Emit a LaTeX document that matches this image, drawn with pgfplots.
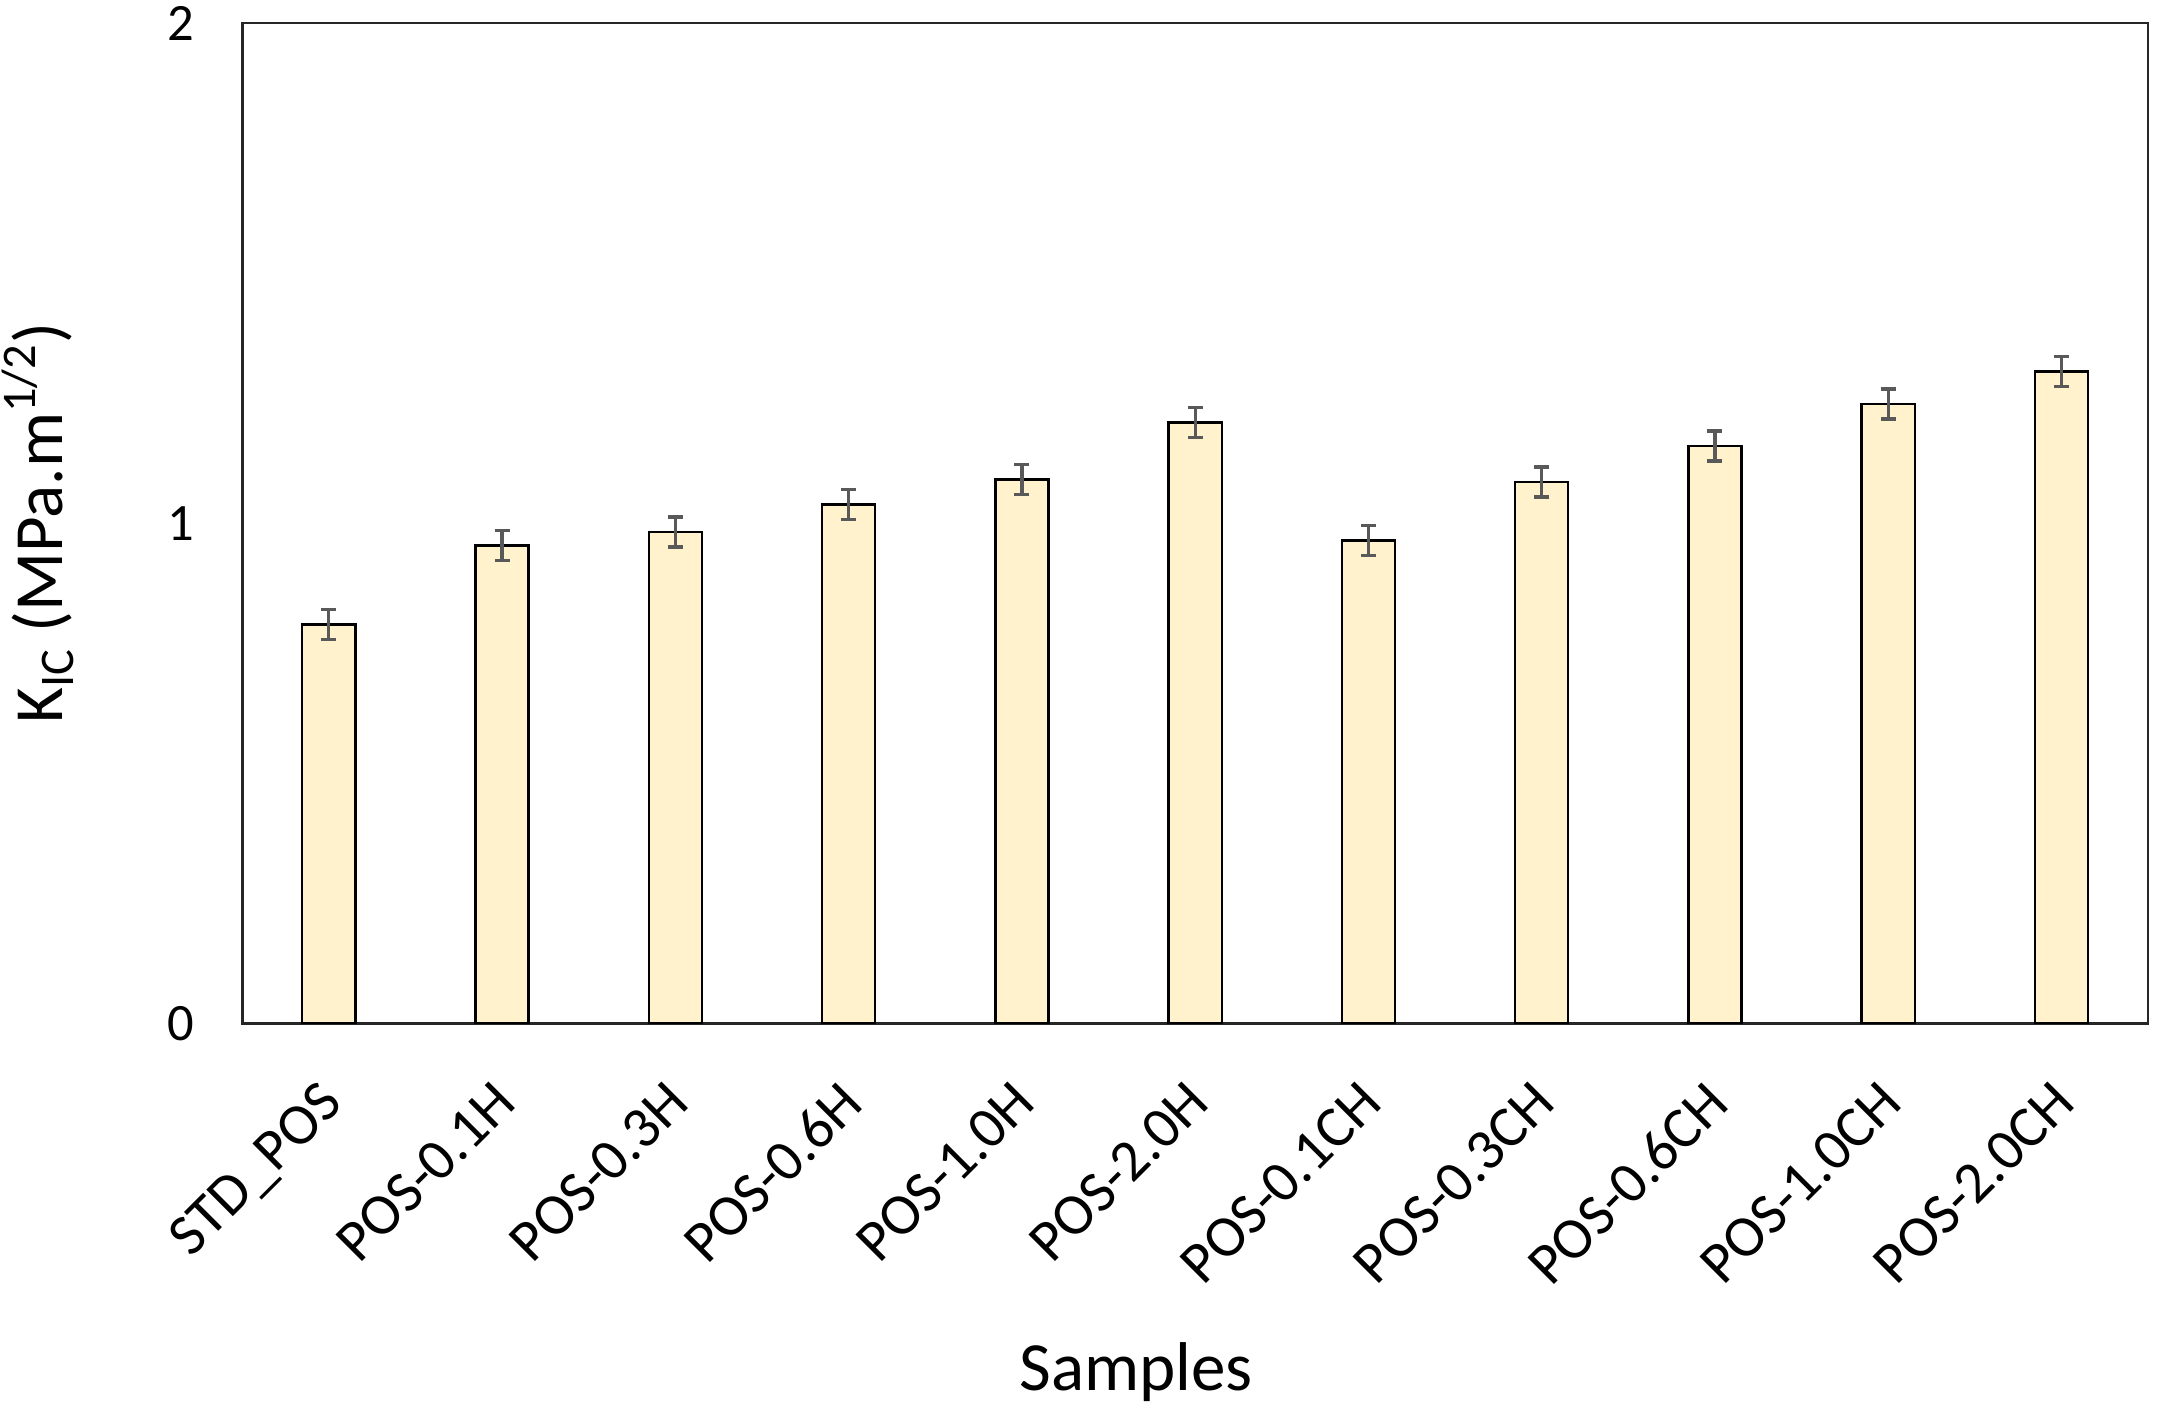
\documentclass[border=0pt]{standalone}
\usepackage{pgfplots}
\pgfplotsset{compat=1.18}
\usepackage{fontspec}
\setmainfont{Carlito}

\definecolor{barfill}{HTML}{FFF2CC}
\definecolor{errgray}{HTML}{595959}

\begin{document}
\begin{tikzpicture}
\begin{axis}[
    scale only axis,
    width=635pt, height=333.2pt,
    ymin=0, ymax=2,
    xmin=-0.5, xmax=10.5,
    ytick={0,1,2},
    xtick=data,
    xticklabels={STD\_POS, POS-0.1H, POS-0.3H, POS-0.6H, POS-1.0H, POS-2.0H,
                 POS-0.1CH, POS-0.3CH, POS-0.6CH, POS-1.0CH, POS-2.0CH},
    major tick length=0pt,
    axis line style={black!85, line width=0.9pt},
    /pgf/number format/assume math mode=true,
    yticklabel style={font=\fontsize{17.5}{20}\selectfont, xshift=-12.5pt},
    xticklabel style={font=\fontsize{19.5}{22}\selectfont, inner sep=0pt,
                      xshift=-3.7pt, yshift=-18.3pt, rotate=45, anchor=north east},
    every axis y label/.style={at={(axis description cs:0,0.5)},
                      xshift=-68pt, rotate=90, anchor=center},
    ylabel={K\textsubscript{IC} (MPa.m\textsuperscript{1/2})},
    ylabel style={font=\fontsize{23}{26}\selectfont},
    every axis x label/.style={at={(axis description cs:0.469,0)},
                      yshift=-122.4pt, anchor=base},
    xlabel={Samples},
    xlabel style={font=\fontsize{23}{26}\selectfont},
]
\addplot[
    ybar, bar width=17.7pt,
    fill=barfill, draw=black, line width=0.8pt,
    error bars/.cd, y dir=both, y explicit,
    error bar style={errgray, line width=1.1pt},
    error mark options={errgray, line width=1.1pt, mark size=2.5pt, rotate=90},
]
coordinates {
    (0,0.797) +- (0,0.03)
    (1,0.955) +- (0,0.03)
    (2,0.982) +- (0,0.03)
    (3,1.037) +- (0,0.03)
    (4,1.087) +- (0,0.03)
    (5,1.201) +- (0,0.03)
    (6,0.965) +- (0,0.03)
    (7,1.082) +- (0,0.03)
    (8,1.154) +- (0,0.03)
    (9,1.238) +- (0,0.03)
    (10,1.303) +- (0,0.03)
};
\end{axis}
\pgfresetboundingbox
\path[use as bounding box] (-80.7pt,-128.4pt) rectangle (639.3pt,340.9pt);
\end{tikzpicture}
\end{document}
